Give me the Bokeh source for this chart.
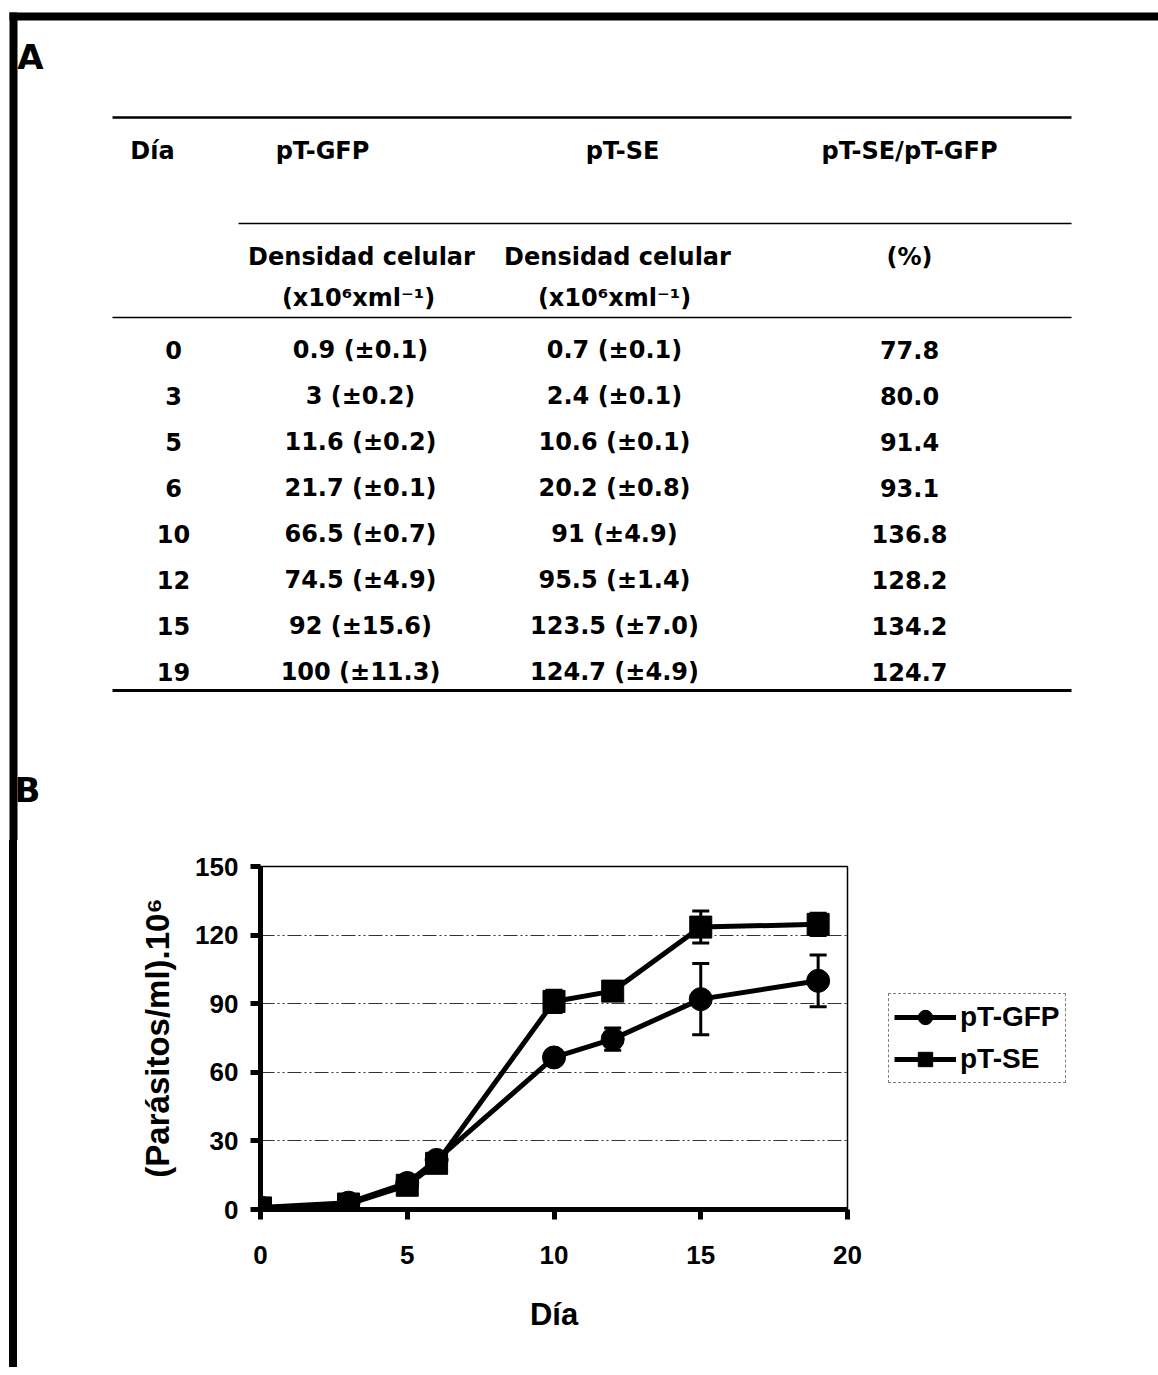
from bokeh.plotting import figure
from bokeh.models import (Range1d, FixedTicker, Whisker, TeeHead, ColumnDataSource,
                          Legend, LegendItem, Div)
from bokeh.layouts import column, row
from bokeh.embed import file_html
from bokeh.resources import INLINE
from bokeh.core.properties import value

# ---------------- data ----------------
days = [0, 3, 5, 6, 10, 12, 15, 19]
gfp = [0.9, 3, 11.6, 21.7, 66.5, 74.5, 92, 100]
gfp_err = [0.1, 0.2, 0.2, 0.1, 0.7, 4.9, 15.6, 11.3]
se = [0.7, 2.4, 10.6, 20.2, 91, 95.5, 123.5, 124.7]
se_err = [0.1, 0.1, 0.1, 0.8, 4.9, 1.4, 7.0, 4.9]
ratio = [77.8, 80.0, 91.4, 93.1, 136.8, 128.2, 134.2, 124.7]

header = ["Día", "pT-GFP", "pT-SE", "pT-SE/pT-GFP"]
subheader = ["Densidad celular", "Densidad celular", "(%)"]
units = ["(x10⁶xml⁻¹)", "(x10⁶xml⁻¹)"]
x_ticks = [0, 5, 10, 15, 20]
y_ticks = [0, 30, 60, 90, 120, 150]
series_names = ["pT-GFP", "pT-SE"]
panel_labels = ["A", "B"]

TFONT = value("DejaVu Sans")
CFONT = "Liberation Sans"

# ---------------- top part: frame + table ----------------
top = figure(width=1158, height=840, x_range=Range1d(0, 1158), y_range=Range1d(840, 0),
             toolbar_location=None, output_backend="svg", min_border=0,
             x_axis_type=None, y_axis_type=None)
top.grid.visible = False
top.outline_line_color = None
top.background_fill_color = "white"
top.border_fill_color = "white"

# frame
top.segment(x0=[9], y0=[16], x1=[1158], y1=[16], line_width=8, line_color="black")
top.segment(x0=[13], y0=[12], x1=[13], y1=[840], line_width=8, line_color="black")
# table rules
top.segment(x0=[112, 238, 112, 112], y0=[117, 223, 317, 690],
            x1=[1071, 1071, 1071, 1071], y1=[117, 223, 317, 690],
            line_width=[2.5, 1.5, 1.5, 3], line_color="black")

col_x = [173, 360, 614, 909]
txt_kw = dict(text_align="center", text_baseline="middle", text_font=TFONT,
              text_font_size="24px", text_font_style="bold", text_color="black")
top.text(x=[152, 322, 622, 909], y=[150] * 4, text=header, **txt_kw)
top.text(x=[361, 617, 909], y=[256] * 3, text=subheader, **txt_kw)
top.text(x=[358, 614], y=[297] * 2, text=units, **txt_kw)

row_y0, pitch = 349, 46.0
ys = [row_y0 + i * pitch for i in range(len(days))]
c_day = [str(d) for d in days]
c_gfp = [f"{v:g} (±{e:.1f})" for v, e in zip(gfp, gfp_err)]
c_se = [f"{v:g} (±{e:.1f})" for v, e in zip(se, se_err)]
c_ratio = [f"{r:.1f}" for r in ratio]
for cx, texts in zip(col_x, [c_day, c_gfp, c_se, c_ratio]):
    top.text(x=[cx] * len(ys), y=ys, text=texts, **txt_kw)

top.text(x=[30, 27], y=[56, 789], text=panel_labels, text_align="center",
         text_baseline="middle", text_font=TFONT, text_font_size="34px",
         text_font_style="bold", text_color="black")

# ---------------- bottom-left: frame continuation ----------------
left = Div(width=130, height=527, margin=0,
           text='<div style="margin:0 0 0 9px;width:8px;height:527px;background:#000"></div>')

# ---------------- chart ----------------
p = figure(frame_width=587, frame_height=343, min_border_left=130, min_border_right=311,
           min_border_top=26, min_border_bottom=158,
           x_range=Range1d(0, 20), y_range=Range1d(0, 150),
           toolbar_location=None, output_backend="svg")
p.background_fill_color = "white"
p.border_fill_color = "white"
p.outline_line_color = "black"
p.outline_line_width = 1.5
p.xgrid.visible = False
p.ygrid.grid_line_color = "black"
p.ygrid.grid_line_alpha = 0.8
p.ygrid.grid_line_width = 1
p.ygrid.grid_line_dash = "14 3 2 3 2 3"

p.xaxis.ticker = FixedTicker(ticks=x_ticks)
p.yaxis.ticker = FixedTicker(ticks=y_ticks)
for ax in (p.xaxis[0], p.yaxis[0]):
    ax.axis_line_width = 5
    ax.axis_line_color = "black"
    ax.major_tick_line_width = 5
    ax.major_tick_line_color = "black"
    ax.major_tick_out = 10
    ax.major_tick_in = 0
    ax.minor_tick_line_color = None
    ax.major_label_text_font = CFONT
    ax.major_label_text_font_style = "bold"
    ax.major_label_text_font_size = "26px"
    ax.major_label_text_color = "black"
    ax.axis_label_text_font = CFONT
    ax.axis_label_text_font_style = "bold"
    ax.axis_label_text_color = "black"
p.xaxis.major_label_standoff = 26
p.yaxis.major_label_standoff = 12
p.xaxis.axis_label = "Día"
p.xaxis.axis_label_text_font_size = "31px"
p.xaxis.axis_label_standoff = 30
p.yaxis.axis_label = "(Parásitos/ml).10⁶"
p.yaxis.axis_label_text_font_size = "33px"
p.yaxis.axis_label_standoff = 16

src_g = ColumnDataSource(dict(x=days, y=gfp,
                              up=[v + e for v, e in zip(gfp, gfp_err)],
                              lo=[v - e for v, e in zip(gfp, gfp_err)]))
src_s = ColumnDataSource(dict(x=days, y=se,
                              up=[v + e for v, e in zip(se, se_err)],
                              lo=[v - e for v, e in zip(se, se_err)]))

for src in (src_g, src_s):
    w = Whisker(source=src, base="x", upper="up", lower="lo", line_width=3,
                line_color="black",
                upper_head=TeeHead(size=17, line_width=3, line_color="black"),
                lower_head=TeeHead(size=17, line_width=3, line_color="black"))
    p.add_layout(w)

lg = p.line("x", "y", source=src_g, line_width=5, line_color="black")
sg = p.scatter("x", "y", source=src_g, marker="circle", size=23, color="black")
ls = p.line("x", "y", source=src_s, line_width=5, line_color="black")
ss = p.scatter("x", "y", source=src_s, marker="square", size=22, color="black")

legend = Legend(items=[LegendItem(label=series_names[0], renderers=[lg, sg]),
                       LegendItem(label=series_names[1], renderers=[ls, ss])],
                location="center_left")
legend.margin = 41
legend.padding = 5
legend.spacing = 6
legend.glyph_width = 62
legend.glyph_height = 36
legend.label_standoff = 4
legend.label_text_font = CFONT
legend.label_text_font_style = "bold"
legend.label_text_font_size = "28px"
legend.label_text_color = "black"
legend.border_line_color = "black"
legend.border_line_width = 1.5
legend.border_line_dash = "5 3"
legend.background_fill_color = "white"
p.add_layout(legend, "right")

layout = column(top, row(left, p, spacing=0), spacing=0)

open("out.html", "w").write(file_html(layout, INLINE))
